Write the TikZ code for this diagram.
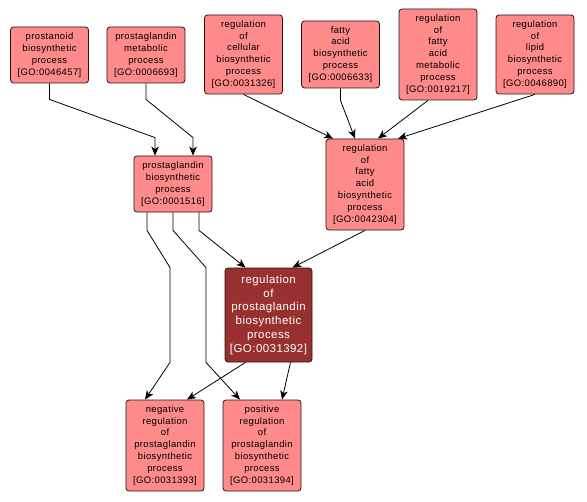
\documentclass[tikz,border=0pt]{standalone}
\usepackage{fontspec}
\setmainfont{Liberation Sans}[LetterSpace=4]
\usetikzlibrary{arrows.meta,calc}
\definecolor{termfill}{RGB}{255,138,138}
\definecolor{selfill}{RGB}{153,48,48}
\definecolor{termline}{RGB}{40,20,20}

\begin{document}
\begin{tikzpicture}[x=1bp,y=1bp,
  goterm/.style={draw=termline,fill=termfill,rounded corners=3bp,line width=0.8bp,
    align=center,minimum width=78bp,inner sep=1bp,font=\fontsize{9.5}{12}\selectfont},
  gosel/.style={goterm,fill=selfill,text=white,minimum width=87bp,
    font=\fontsize{11.5}{14}\selectfont},
  isa/.style={draw=black,line width=0.8bp,-{Stealth[length=9bp,width=7.5bp,inset=2.5bp]}}]
\useasboundingbox[fill=white] (0,0) rectangle (587,-502);
% GO terms
\foreach \nm/\x/\y/\h/\txt in {
  prostanoid/49.5/-55/56/{prostanoid\\biosynthetic\\process\\{[GO:0046457]}},
  pgmeta/146/-55/56/{prostaglandin\\metabolic\\process\\{[GO:0006693]}},
  regcell/243.5/-54.5/79/{regulation\\of\\cellular\\biosynthetic\\process\\{[GO:0031326]}},
  fabio/340.5/-54.5/67/{fatty\\acid\\biosynthetic\\process\\{[GO:0006633]}},
  regfameta/438/-54.5/91/{regulation\\of\\fatty\\acid\\metabolic\\process\\{[GO:0019217]}},
  reglipid/535/-54.5/79/{regulation\\of\\lipid\\biosynthetic\\process\\{[GO:0046890]}},
  pgbio/173/-184/56/{prostaglandin\\biosynthetic\\process\\{[GO:0001516]}},
  regfabio/365/-184.5/91/{regulation\\of\\fatty\\acid\\biosynthetic\\process\\{[GO:0042304]}},
  negpg/165/-445.5/91/{negative\\regulation\\of\\prostaglandin\\biosynthetic\\process\\{[GO:0031393]}},
  pospg/262/-445.5/91/{positive\\regulation\\of\\prostaglandin\\biosynthetic\\process\\{[GO:0031394]}}}{
\node[goterm,minimum height=\h bp] (\nm) at (\x,\y) {\txt};}
\node[gosel,minimum height=94bp] (regpg) at (268.5,-315) {regulation\\of\\prostaglandin\\biosynthetic\\process\\{[GO:0031392]}};
% is_a / regulates links
\draw[isa] (prostanoid.south) -- ++(0,-16) -- ([shift={(-18,18)}]pgbio.north) -- ([xshift=-18bp]pgbio.north);
\draw[isa] (pgmeta.south) -- ++(0,-16) -- ([shift={(20,18)}]pgbio.north) -- ([xshift=20bp]pgbio.north);
\draw[isa] (regcell.south) -- ([xshift=-32bp]regfabio.north);
\draw[isa] (fabio.south) -- ++(0,-12) -- ([xshift=-10bp]regfabio.north);
\draw[isa] ([xshift=-10bp]regfameta.south) -- ([xshift=13bp]regfabio.north);
\draw[isa] (reglipid.south) -- ([xshift=33bp]regfabio.north);
\draw[isa] ([xshift=26bp]pgbio.south) -- ++(0,-18) -- ([xshift=-23bp]regpg.north);
\draw[isa] (regfabio.south) -- ([xshift=24bp]regpg.north);
\draw[isa] ([xshift=-26bp]pgbio.south) -- ++(0,-18) -- ([xshift=-3bp]pgbio.south |- regpg.north)
  -- ([xshift=-3bp]pgbio.south |- regpg.south) -- ([xshift=-20bp]negpg.north);
\draw[isa] (pgbio.south) -- ++(0,-18) -- ([xshift=33bp]pgbio.south |- regpg.north)
  -- ([xshift=33bp]pgbio.south |- regpg.south) -- ([xshift=-22bp]pospg.north);
\draw[isa] ([xshift=-23bp]regpg.south) -- ([xshift=22bp]negpg.north);
\draw[isa] ([xshift=22bp]regpg.south) -- ([xshift=20bp]pospg.north);
\end{tikzpicture}
\end{document}
